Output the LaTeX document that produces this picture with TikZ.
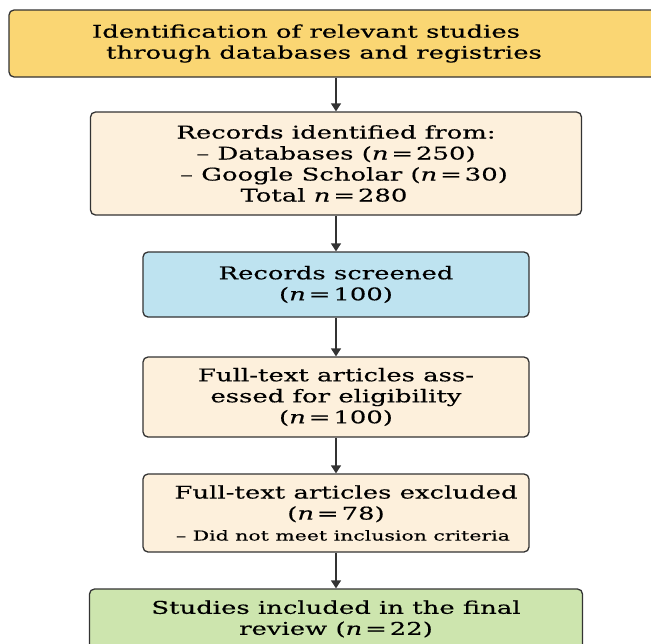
\documentclass[tikz,border=0pt]{standalone}
\usepackage{fontspec}
\setmainfont{DejaVu Serif}[FakeStretch=1.48, FakeBold=0.4]
\usetikzlibrary{arrows.meta}

\definecolor{identfill}{HTML}{FAD673}
\definecolor{recfill}{HTML}{FDF0DC}
\definecolor{screenfill}{HTML}{BEE3F0}
\definecolor{inclfill}{HTML}{CDE5AE}
\definecolor{edgegray}{HTML}{333333}

\newcommand{\nval}[1]{(\textit{n}\,=\,#1)}

\begin{document}
\begin{tikzpicture}[x=1pt, y=-1pt]

    \tikzstyle{box}=[draw=edgegray, line width=1.3pt, rounded corners=5pt, inner sep=0pt, align=center, font=\fontsize{17.5}{21}\selectfont];

    \useasboundingbox (0,0) rectangle (651,643);

    \node[box, fill=identfill, minimum width=654pt, minimum height=67pt] (1) at (336, 43.5) {Identification of relevant studies\hspace*{60pt}\\ through databases and registries\hspace*{24pt}};
    \node[box, fill=recfill, minimum width=491pt, minimum height=103pt] (2) at (336, 163.5) {Records identified from:\\ -- Databases \nval{250}\hspace*{30pt}\\ \hspace*{16pt}-- Google Scholar \nval{30}\\ Total \textit{n}\,=\,280\hspace*{24pt}};
    \node[box, fill=screenfill, minimum width=386pt, minimum height=65pt] (3) at (336, 284.5) {Records screened\\ \nval{100}};
    \node[box, fill=recfill, minimum width=386pt, minimum height=80pt] (4) at (336, 397) {Full-text articles ass-\\ essed for eligibility\\ \nval{100}};
    \node[box, fill=recfill, minimum width=386pt, minimum height=78pt] (5) at (336, 513) {\hspace*{20pt}Full-text articles excluded\\ \nval{78}\\ {\fontsize{13.8}{21}\selectfont \hspace*{14pt}-- Did not meet inclusion criteria}};
    \node[box, fill=inclfill, minimum width=493pt, minimum height=60pt] (6) at (336, 619) {Studies included in the final\\ review \nval{22}};

    \draw (1) edge[-{Triangle[width=10pt, length=8pt]}, line width=1.3pt, draw=edgegray] (2);
    \draw (2) edge[-{Triangle[width=10pt, length=8pt]}, line width=1.3pt, draw=edgegray] (3);
    \draw (3) edge[-{Triangle[width=10pt, length=8pt]}, line width=1.3pt, draw=edgegray] (4);
    \draw (4) edge[-{Triangle[width=10pt, length=8pt]}, line width=1.3pt, draw=edgegray] (5);
    \draw (5) edge[-{Triangle[width=10pt, length=8pt]}, line width=1.3pt, draw=edgegray] (6);
\end{tikzpicture}
\end{document}
